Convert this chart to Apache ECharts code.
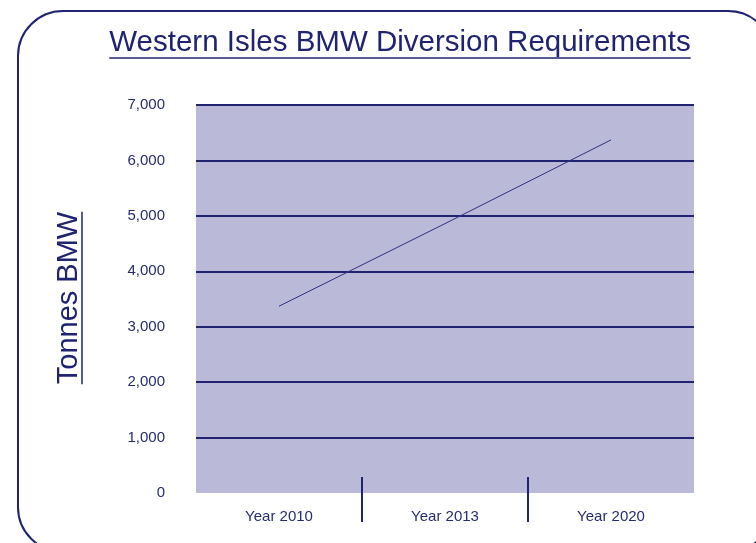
<!DOCTYPE html>
<html><head><meta charset="utf-8">
<script src="https://cdn.jsdelivr.net/npm/echarts@6/dist/echarts.min.js"></script>
<style>html,body{margin:0;padding:0;background:#fff}#c{width:756px;height:543px}</style>
</head><body><div id="c"></div>
<script>
var categories = ['Year 2010', 'Year 2013', 'Year 2020'];
var diversion = [3370, 4860, 6370];
var yTicks = [0, 1000, 2000, 3000, 4000, 5000, 6000, 7000];
var titleText = 'Western Isles BMW Diversion Requirements';
var yName = 'Tonnes BMW';

var NAVY = '#1f2371';
var FONT = 'Liberation Sans';
var titleSize = 29.5, nameSize = 29;
function tw(t, s) { var c = document.createElement('canvas').getContext('2d'); c.font = s + 'px "' + FONT + '"'; return c.measureText(t).width; }
var tW = tw(titleText, titleSize), nW = tw(yName, nameSize);

var chart = echarts.init(document.getElementById('c'), null, {renderer: 'canvas'});
chart.setOption({
  animation: false,
  textStyle: {fontFamily: FONT},
  grid: {left: 196, right: 62, top: 105, bottom: 50, show: true, backgroundColor: '#babad8', borderWidth: 0},
  xAxis: [
    {type: 'category', data: categories, boundaryGap: true, axisLine: {show: false}, axisTick: {show: false},
     axisLabel: {color: '#262b6e', fontSize: 15, margin: 16, fontFamily: FONT}},
    {type: 'value', min: 0, max: 3, interval: 1, position: 'bottom', axisLine: {show: false}, axisLabel: {show: false}, splitLine: {show: false},
     axisTick: {show: true, inside: true, length: 16, customValues: [1, 2], lineStyle: {color: NAVY, width: 2}}},
    {type: 'value', min: 0, max: 3, interval: 1, position: 'bottom', axisLine: {show: false}, axisLabel: {show: false}, splitLine: {show: false},
     axisTick: {show: true, inside: false, length: 29, customValues: [1, 2], lineStyle: {color: NAVY, width: 2}}}
  ],
  yAxis: {type: 'value', min: yTicks[0], max: yTicks[yTicks.length - 1], interval: 1000,
    axisLine: {show: false}, axisTick: {show: false},
    axisLabel: {color: '#262b6e', fontSize: 15, margin: 31, fontFamily: FONT, formatter: function (v) { return v.toLocaleString('en-US'); }},
    splitLine: {show: true, lineStyle: {width: 2, color: yTicks.map(function (v, i) { return i === 0 ? 'rgba(0,0,0,0)' : NAVY; })}}
  },
  series: [{type: 'line', data: diversion, xAxisIndex: 0, symbol: 'none', lineStyle: {color: '#2c3280', width: 1}}],
  graphic: [
    {type: 'rect', shape: {x: 18, y: 11, width: 755, height: 541, r: 45}, style: {fill: 'none', stroke: NAVY, lineWidth: 2}, silent: true, z: 100},
    {type: 'text', x: 400, y: 43, style: {text: titleText, fill: NAVY, font: titleSize + 'px "' + FONT + '"', align: 'center', verticalAlign: 'middle'}},
    {type: 'line', shape: {x1: 400 - tW / 2, y1: 58, x2: 400 + tW / 2, y2: 58}, style: {stroke: NAVY, lineWidth: 1.5}},
    {type: 'text', x: 69, y: 298, rotation: Math.PI / 2, style: {text: yName, fill: NAVY, font: nameSize + 'px "' + FONT + '"', align: 'center', verticalAlign: 'middle'}},
    {type: 'line', shape: {x1: 82, y1: 298 - nW / 2, x2: 82, y2: 298 + nW / 2}, style: {stroke: NAVY, lineWidth: 1.5}}
  ]
});
</script></body></html>
